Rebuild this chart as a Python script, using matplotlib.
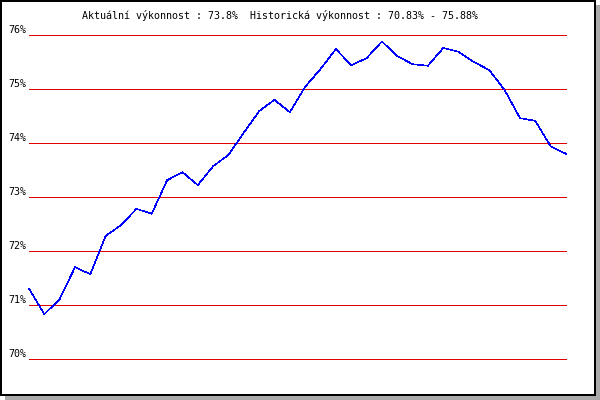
import matplotlib
matplotlib.use("Agg")
import matplotlib.pyplot as plt
from matplotlib.patches import Rectangle
from matplotlib.transforms import offset_copy

# performance history (%)
perf = [71.30, 70.83, 71.11, 71.70, 71.57, 72.28, 72.48, 72.78, 72.69, 73.31,
        73.46, 73.22, 73.57, 73.78, 74.19, 74.59, 74.80, 74.57, 75.04, 75.37,
        75.74, 75.44, 75.57, 75.88, 75.61, 75.46, 75.43, 75.76, 75.69, 75.50,
        75.35, 74.98, 74.46, 74.41, 73.94, 73.80]
y_ticks = [70, 71, 72, 73, 74, 75, 76]
y_labels = ["70%", "71%", "72%", "73%", "74%", "75%", "76%"]
title = "Aktuální výkonnost : 73.8%  Historická výkonnost : 70.83% - 75.88%"

MONO = "DejaVu Sans Mono"

fig = plt.figure(figsize=(6, 4), dpi=100, facecolor="white")

# frame with drop shadow (kept below the axes)
fig.patches.append(Rectangle((5 / 600, 0), 595 / 600, 395 / 400,
                             transform=fig.transFigure, facecolor="#aaaaaa",
                             edgecolor="none", zorder=-2))
fig.patches.append(Rectangle((1 / 600, 5 / 400), 594 / 600, 394 / 400,
                             transform=fig.transFigure, facecolor="white",
                             edgecolor="black", linewidth=1.44, zorder=-1))

ax = fig.add_axes([29 / 600, 41 / 400, 537 / 600, 324 / 400])
ax.set_facecolor("none")
ax.set_xlim(0, len(perf) - 1)
ax.set_ylim(70, 76)
for sp in ax.spines.values():
    sp.set_visible(False)
ax.set_xticks([])
ax.set_yticks([])

# red horizontal guide lines
for v in y_ticks:
    ax.axhline(v, color="#e00000", lw=0.5, antialiased=False, zorder=1,
               clip_on=False)

ax.plot(range(len(perf)), perf, color="#0000ff", lw=0.4, antialiased=False,
        zorder=2, clip_on=False)

lab_trans = offset_copy(ax.get_yaxis_transform(), fig=fig, x=-3, y=2, units="dots")
for v, lab in zip(y_ticks, y_labels):
    ax.text(0, v, lab, transform=lab_trans, ha="right", va="baseline",
            family=MONO, fontsize=7.2, color="black")

fig.text(82 / 600, 1 - 19 / 400, title, ha="left", va="baseline",
         family=MONO, fontsize=7.2, color="black")

fig.savefig("out.png", dpi=100, facecolor="white")
